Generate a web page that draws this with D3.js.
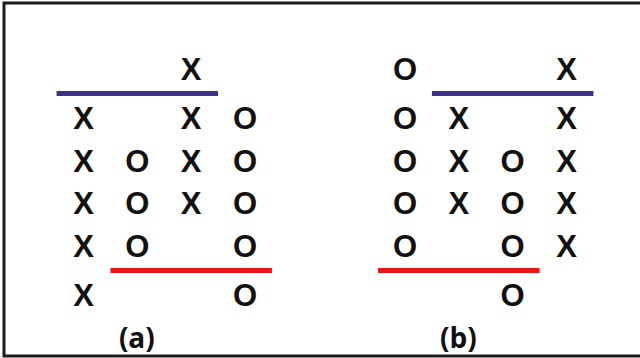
<!DOCTYPE html>
<html lang="en">
<head>
<meta charset="utf-8">
<title>Point and figure</title>
<style>
  body { margin: 0; background: #fff; }
  .mark { font-family: "Liberation Sans", Arial, sans-serif; font-weight: bold; font-size: 31px; fill: #111; }
  .label { font-family: "Open Sans", "Liberation Sans", sans-serif; font-weight: bold; font-size: 28px; fill: #111; }
</style>
</head>
<body>
<div id="chart"></div>
<script src="https://cdn.jsdelivr.net/npm/d3@7"></script>
<script>
// panel labels
var labels = ["(a)", "(b)"];

// columns of each panel: symbol and the rows (0 = top) it occupies
var marksA = ["X", "O", "X", "O"];
var rowsA = [[1, 2, 3, 4, 5], [2, 3, 4], [0, 1, 2, 3], [1, 2, 3, 4, 5]];
var marksB = ["O", "X", "O", "X"];
var rowsB = [[0, 1, 2, 3, 4], [1, 2, 3], [2, 3, 4, 5], [0, 1, 2, 3, 4]];

// horizontal lines: level (in rows) and column span
var lineLevels = [0.5, 4.5];
var spansA = [[-0.5, 2.5], [0.5, 3.5]];
var spansB = [[0.5, 3.5], [-0.5, 2.5]];
var lineColors = ["#3f2f86", "#e8151b"];

var width = 640, height = 358;

var svg = d3.select("#chart").append("svg")
    .attr("width", width)
    .attr("height", height);

// frame (no right edge in the original)
svg.append("path")
    .attr("d", "M640,3 H4 V356 H640")
    .attr("fill", "none")
    .attr("stroke", "#1c1c1c")
    .attr("stroke-width", 3);

// rows are a bit further apart around the two lines
var y = d3.scaleLinear().domain([0, 1, 4, 5]).range([69, 118, 246, 295]);
var x = d3.scaleLinear().domain([0, 3]).range([83.5, 245]);
var panelOffset = [0, 321.5];

var panels = [
  { marks: marksA, rows: rowsA, spans: spansA },
  { marks: marksB, rows: rowsB, spans: spansB }
];

panels.forEach(function(p, i) {
  var g = svg.append("g").attr("transform", "translate(" + panelOffset[i] + ",0)");

  var cells = [];
  p.rows.forEach(function(rs, c) {
    rs.forEach(function(r) { cells.push({ col: c, row: r, mark: p.marks[c] }); });
  });

  g.selectAll(".line")
    .data(lineLevels)
  .enter().append("line")
    .attr("x1", function(d, k) { return x(p.spans[k][0]); })
    .attr("x2", function(d, k) { return x(p.spans[k][1]); })
    .attr("y1", function(d) { return y(d); })
    .attr("y2", function(d) { return y(d); })
    .attr("stroke", function(d, k) { return lineColors[k]; })
    .attr("stroke-width", 5);

  g.selectAll(".mark")
    .data(cells)
  .enter().append("text")
    .attr("class", "mark")
    .attr("x", function(d) { return x(d.col); })
    .attr("y", function(d) { return y(d.row); })
    .attr("dy", "0.36em")
    .attr("text-anchor", "middle")
    .text(function(d) { return d.mark; });

  g.append("text")
    .attr("class", "label")
    .attr("x", x(1) - 0.5)
    .attr("y", 348)
    .attr("text-anchor", "middle")
    .text(labels[i]);
});
</script>
</body>
</html>
